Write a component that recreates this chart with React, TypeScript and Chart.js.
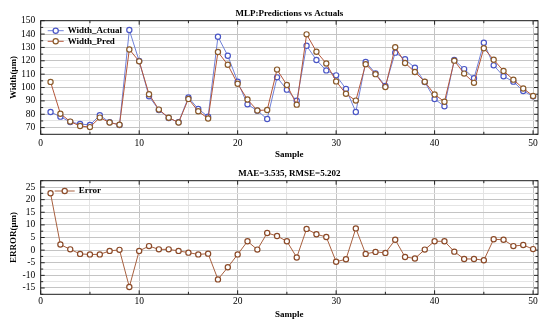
import React, { useEffect, useRef } from 'react';
import { Chart, registerables } from 'chart.js';

Chart.register(...registerables);

const samples = [1, 2, 3, 4, 5, 6, 7, 8, 9, 10, 11, 12, 13, 14, 15, 16, 17, 18, 19, 20, 21, 22, 23, 24, 25, 26, 27, 28, 29, 30, 31, 32, 33, 34, 35, 36, 37, 38, 39, 40, 41, 42, 43, 44, 45, 46, 47, 48, 49, 50];
const widthActual = [81.7, 78.2, 74.2, 72.7, 72.0, 79.2, 74.0, 72.0, 143.0, 119.8, 93.4, 83.2, 77.2, 74.0, 92.6, 83.9, 78.2, 138.0, 123.8, 104.4, 87.4, 82.7, 76.4, 107.6, 98.4, 90.1, 131.3, 120.6, 112.8, 109.1, 98.9, 81.7, 119.1, 110.6, 101.1, 126.1, 121.1, 114.8, 104.1, 91.4, 85.9, 120.6, 113.8, 106.9, 133.5, 116.6, 108.4, 104.4, 97.4, 93.4];
const widthPred = [104.2, 80.4, 74.5, 71.2, 70.4, 77.5, 73.8, 72.1, 128.5, 119.6, 95.0, 83.5, 77.4, 73.8, 91.5, 82.2, 76.8, 126.6, 117.0, 102.8, 91.0, 82.8, 83.2, 113.4, 101.9, 87.2, 139.8, 126.8, 118.0, 104.6, 95.3, 90.2, 117.5, 110.0, 100.3, 130.2, 118.4, 111.6, 104.3, 94.8, 89.4, 120.1, 110.4, 103.5, 129.4, 120.8, 112.4, 105.9, 99.3, 93.7];
const errors = [22.5, 2.2, 0.3, -1.5, -1.7, -1.7, -0.3, 0.1, -14.6, -0.3, 1.6, 0.3, 0.3, -0.3, -1.0, -1.7, -1.4, -11.6, -6.8, -1.7, 3.5, 0.2, 6.8, 5.6, 3.5, -2.9, 8.4, 6.3, 5.2, -4.6, -3.6, 8.6, -1.5, -0.7, -1.1, 4.1, -2.7, -3.3, 0.2, 3.5, 3.5, -0.6, -3.5, -3.5, -4.0, 4.3, 4.1, 1.6, 2.0, 0.4];

const topTitle = 'MLP:Predictions vs Actuals';
const bottomTitle = 'MAE=3.535, RMSE=5.202';
const xTitle = 'Sample';
const topYTitle = 'Width(μm)';
const bottomYTitle = 'ERROR(μm)';
const seriesNames = ['Width_Actual', 'Width_Pred', 'Error'];

const SERIF = "'Liberation Serif', 'Times New Roman', serif";
const MAJOR = '#c4c4c4';
const MINOR = '#e4e4e4';

const near = (v: number, m: number) => {
  const r = Math.abs(Math.round(v * 1000) / 1000) % m;
  return r < 1e-6 || Math.abs(r - m) < 1e-6;
};

const framePlugin = {
  id: 'frameTicks',
  beforeDatasetsDraw(chart: any) {
    const { ctx, chartArea } = chart;
    const xs = chart.scales.x;
    const ys = chart.scales.y;
    const yMajor = chart.options.plugins.frameTicks.yMajor;
    ctx.save();
    ctx.strokeStyle = '#222';
    ctx.lineWidth = 1;
    ctx.strokeRect(chartArea.left, chartArea.top, chartArea.right - chartArea.left, chartArea.bottom - chartArea.top);
    ctx.beginPath();
    xs.ticks.forEach((t: any) => {
      const px = xs.getPixelForValue(t.value);
      const len = near(t.value, 10) ? 4 : 2.5;
      ctx.moveTo(px, chartArea.bottom);
      ctx.lineTo(px, chartArea.bottom - len);
      ctx.moveTo(px, chartArea.top);
      ctx.lineTo(px, chartArea.top + len);
    });
    ys.ticks.forEach((t: any) => {
      const py = ys.getPixelForValue(t.value);
      const len = near(t.value, yMajor) ? 4 : 2.5;
      ctx.moveTo(chartArea.left, py);
      ctx.lineTo(chartArea.left + len, py);
      ctx.moveTo(chartArea.right, py);
      ctx.lineTo(chartArea.right - len, py);
    });
    ctx.stroke();
    ctx.restore();
  },
};

const legendPlugin = {
  id: 'innerLegend',
  afterDatasetsDraw(chart: any) {
    const opts = chart.options.plugins.innerLegend;
    const { ctx, chartArea } = chart;
    ctx.save();
    ctx.font = `bold 9px ${SERIF}`;
    ctx.textBaseline = 'middle';
    ctx.textAlign = 'left';
    chart.data.datasets.forEach((ds: any, i: number) => {
      const y = chartArea.top + opts.top + i * opts.gap;
      const x0 = chartArea.left + opts.left;
      ctx.strokeStyle = ds.borderColor;
      ctx.lineWidth = 1;
      ctx.beginPath();
      ctx.moveTo(x0, y);
      ctx.lineTo(x0 + opts.lineW, y);
      ctx.stroke();
      ctx.beginPath();
      ctx.arc(x0 + opts.lineW / 2, y, 2.6, 0, Math.PI * 2);
      ctx.fillStyle = '#fff';
      ctx.fill();
      ctx.strokeStyle = ds.pointBorderColor;
      ctx.lineWidth = 1.2;
      ctx.stroke();
      ctx.fillStyle = '#000';
      ctx.fillText(ds.label, x0 + opts.lineW + opts.textGap, y);
    });
    ctx.restore();
  },
};

function makeConfig(p: {
  datasets: any[];
  title: string;
  yTitle: string;
  yMin: number;
  yMax: number;
  yStep: number;
  yMajor: number;
  titlePadTop: number;
  topH: number;
  bottomH: number;
  tickPad: number;
  xTitlePadBottom: number;
  legend: any;
}) {
  const tickFont = { family: SERIF, size: 9.5 };
  const titleFont = { family: SERIF, size: 9, weight: 'bold' as const };
  return {
    type: 'line' as const,
    data: { datasets: p.datasets },
    plugins: [framePlugin, legendPlugin],
    options: {
      animation: false as const,
      responsive: false,
      devicePixelRatio: 1,
      layout: { padding: { left: 8, right: 12, top: 0, bottom: 0 } },
      plugins: {
        legend: { display: false },
        title: { display: false },
        tooltip: { enabled: false },
        frameTicks: { yMajor: p.yMajor },
        innerLegend: p.legend,
      },
      scales: {
        x: {
          type: 'linear' as const,
          position: 'bottom' as const,
          min: 0,
          max: 50.5,
          afterFit: (s: any) => { s.height = p.bottomH; },
          ticks: {
            stepSize: 5,
            includeBounds: false,
            autoSkip: false,
            maxRotation: 0,
            padding: p.tickPad,
            font: tickFont,
            color: '#000',
            callback: (v: any) => (near(Number(v), 10) ? String(v) : ''),
          },
          grid: {
            drawTicks: false,
            color: (c: any) => (c.tick && near(c.tick.value, 10) ? MAJOR : MINOR),
            lineWidth: 1,
          },
          border: { display: false },
          title: { display: true, text: xTitle, font: titleFont, color: '#000', padding: { top: 0, bottom: p.xTitlePadBottom } },
        },
        x2: {
          type: 'linear' as const,
          position: 'top' as const,
          min: 0,
          max: 50.5,
          afterFit: (s: any) => { s.height = p.topH; },
          ticks: { display: false },
          grid: { display: false, drawTicks: false },
          border: { display: false },
          title: { display: true, text: p.title, font: titleFont, color: '#000', padding: { top: p.titlePadTop, bottom: 0 } },
        },
        y: {
          type: 'linear' as const,
          min: p.yMin,
          max: p.yMax,
          afterFit: (s: any) => { s.width = 32.7; },
          ticks: {
            stepSize: p.yStep,
            autoSkip: false,
            padding: 5.5,
            font: tickFont,
            color: '#000',
            callback: (v: any) => (near(Number(v), p.yMajor) && Number(v) !== p.yMin ? String(Math.round(Number(v) * 100) / 100) : ''),
          },
          grid: {
            drawTicks: false,
            color: (c: any) => (c.tick && near(c.tick.value, p.yMajor) ? MAJOR : MINOR),
            lineWidth: 1,
          },
          border: { display: false },
          title: { display: true, text: p.yTitle, font: titleFont, color: '#000', padding: { top: 0, bottom: 0 } },
        },
      },
    },
  };
}

function pts(vals: number[]) {
  return samples.map((s, i) => ({ x: s, y: vals[i] }));
}

export default function App() {
  const topRef = useRef<HTMLCanvasElement>(null);
  const botRef = useRef<HTMLCanvasElement>(null);

  useEffect(() => {
    const lineDs = (label: string, vals: number[], line: string, mark: string, order: number) => ({
      label,
      data: pts(vals),
      borderColor: line,
      borderWidth: 1,
      pointBorderColor: mark,
      pointBackgroundColor: '#ffffff',
      pointBorderWidth: 1.2,
      pointRadius: 2.6,
      tension: 0,
      order,
    });

    const top = new Chart(topRef.current as HTMLCanvasElement, makeConfig({
      datasets: [
        lineDs(seriesNames[0], widthActual, '#6f80d8', '#4a56c6', 2),
        lineDs(seriesNames[1], widthPred, '#b4563a', '#8a5a2a', 1),
      ],
      title: topTitle,
      yTitle: topYTitle,
      yMin: 65,
      yMax: 150,
      yStep: 5,
      yMajor: 10,
      titlePadTop: 7.9,
      topH: 20.7,
      bottomH: 28.7,
      tickPad: 3.7,
      xTitlePadBottom: 2.9,
      legend: { left: 7, top: 10, gap: 10.6, lineW: 16, textGap: 4 },
    }) as any);

    const bottom = new Chart(botRef.current as HTMLCanvasElement, makeConfig({
      datasets: [lineDs(seriesNames[2], errors, '#a8603f', '#8b4a28', 1)],
      title: bottomTitle,
      yTitle: bottomYTitle,
      yMin: -17.5,
      yMax: 27.5,
      yStep: 2.5,
      yMajor: 5,
      titlePadTop: 5.6,
      topH: 17.7,
      bottomH: 32.7,
      tickPad: 1.5,
      xTitlePadBottom: 7.4,
      legend: { left: 14, top: 10.3, gap: 10.6, lineW: 20, textGap: 4 },
    }) as any);

    return () => {
      top.destroy();
      bottom.destroy();
    };
  }, []);

  return (
    <div style={{ position: 'absolute', left: 0, top: 0, width: 550, height: 327, background: '#fff' }}>
      <canvas ref={topRef} width={550} height={163} style={{ display: 'block', width: 550, height: 163 }} />
      <canvas ref={botRef} width={550} height={164} style={{ display: 'block', width: 550, height: 164 }} />
    </div>
  );
}
